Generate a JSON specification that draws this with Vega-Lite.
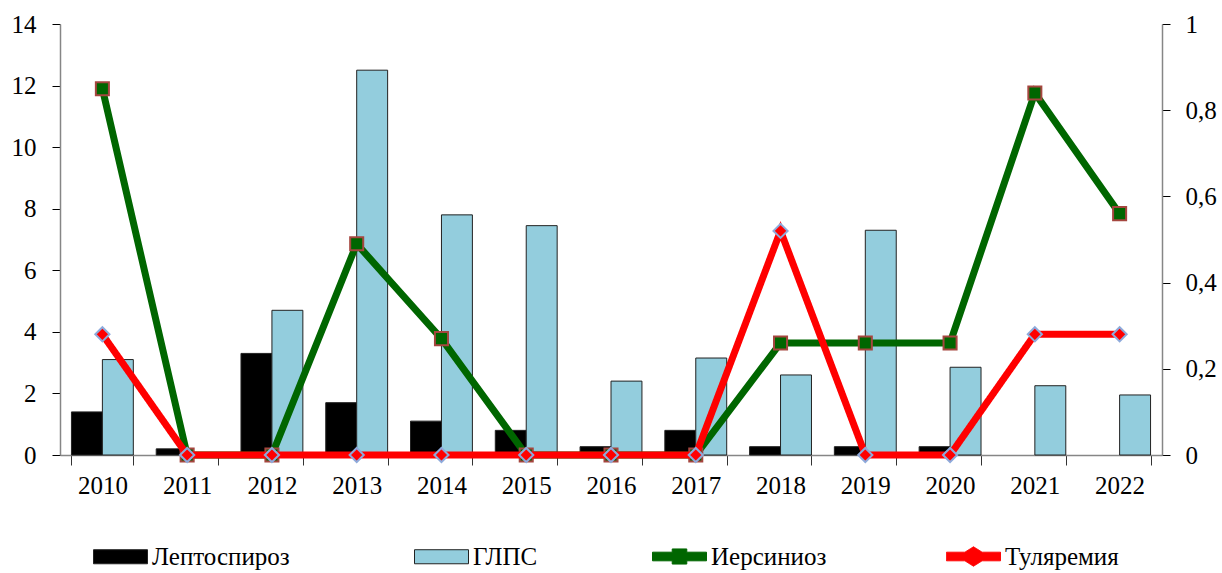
{
  "$schema": "https://vega.github.io/schema/vega-lite/v6.json",
  "width": 1102,
  "height": 431,
  "padding": {"left": 11, "top": 12, "right": 4, "bottom": 0},
  "background": "white",
  "config": {
    "font": "Liberation Serif, DejaVu Serif, serif",
    "view": {"stroke": null},
    "axis": {"labelFont": "Liberation Serif, DejaVu Serif, serif", "labelFontSize": 25, "labelColor": "black", "grid": false, "title": null},
    "legend": {"labelFont": "Liberation Serif, DejaVu Serif, serif", "labelFontSize": 25, "labelColor": "black", "labelOffset": 4, "title": null, "orient": "none", "direction": "horizontal", "symbolSize": 2916, "symbolStrokeWidth": 1, "symbolOpacity": 1}
  },
  "data": {"values": [
    {"year": "2010", "series": "Лептоспироз", "value": 1.4},
    {"year": "2011", "series": "Лептоспироз", "value": 0.2},
    {"year": "2012", "series": "Лептоспироз", "value": 3.3},
    {"year": "2013", "series": "Лептоспироз", "value": 1.7},
    {"year": "2014", "series": "Лептоспироз", "value": 1.1},
    {"year": "2015", "series": "Лептоспироз", "value": 0.8},
    {"year": "2016", "series": "Лептоспироз", "value": 0.27},
    {"year": "2017", "series": "Лептоспироз", "value": 0.8},
    {"year": "2018", "series": "Лептоспироз", "value": 0.27},
    {"year": "2019", "series": "Лептоспироз", "value": 0.27},
    {"year": "2020", "series": "Лептоспироз", "value": 0.27},
    {"year": "2010", "series": "ГЛПС", "value": 3.1},
    {"year": "2012", "series": "ГЛПС", "value": 4.7},
    {"year": "2013", "series": "ГЛПС", "value": 12.5},
    {"year": "2014", "series": "ГЛПС", "value": 7.8},
    {"year": "2015", "series": "ГЛПС", "value": 7.45},
    {"year": "2016", "series": "ГЛПС", "value": 2.4},
    {"year": "2017", "series": "ГЛПС", "value": 3.15},
    {"year": "2018", "series": "ГЛПС", "value": 2.6},
    {"year": "2019", "series": "ГЛПС", "value": 7.3},
    {"year": "2020", "series": "ГЛПС", "value": 2.85},
    {"year": "2021", "series": "ГЛПС", "value": 2.25},
    {"year": "2022", "series": "ГЛПС", "value": 1.95},
    {"year": "2010", "series": "Иерсиниоз", "value": 0.85},
    {"year": "2011", "series": "Иерсиниоз", "value": 0},
    {"year": "2012", "series": "Иерсиниоз", "value": 0},
    {"year": "2013", "series": "Иерсиниоз", "value": 0.49},
    {"year": "2014", "series": "Иерсиниоз", "value": 0.27},
    {"year": "2015", "series": "Иерсиниоз", "value": 0},
    {"year": "2016", "series": "Иерсиниоз", "value": 0},
    {"year": "2017", "series": "Иерсиниоз", "value": 0},
    {"year": "2018", "series": "Иерсиниоз", "value": 0.26},
    {"year": "2019", "series": "Иерсиниоз", "value": 0.26},
    {"year": "2020", "series": "Иерсиниоз", "value": 0.26},
    {"year": "2021", "series": "Иерсиниоз", "value": 0.84},
    {"year": "2022", "series": "Иерсиниоз", "value": 0.56},
    {"year": "2010", "series": "Туляремия", "value": 0.28},
    {"year": "2011", "series": "Туляремия", "value": 0},
    {"year": "2012", "series": "Туляремия", "value": 0},
    {"year": "2013", "series": "Туляремия", "value": 0},
    {"year": "2014", "series": "Туляремия", "value": 0},
    {"year": "2015", "series": "Туляремия", "value": 0},
    {"year": "2016", "series": "Туляремия", "value": 0},
    {"year": "2017", "series": "Туляремия", "value": 0},
    {"year": "2018", "series": "Туляремия", "value": 0.52},
    {"year": "2019", "series": "Туляремия", "value": 0},
    {"year": "2020", "series": "Туляремия", "value": 0},
    {"year": "2021", "series": "Туляремия", "value": 0.28},
    {"year": "2022", "series": "Туляремия", "value": 0.28}
  ]},
  "encoding": {
    "x": {
      "field": "year", "type": "ordinal",
      "scale": {"paddingInner": 0.27, "paddingOuter": 0.135},
      "axis": {"labelAngle": 0, "tickBand": "extent", "tickSize": 10, "labelPadding": 8, "domainColor": "#868686", "tickColor": "#333333", "domainWidth": 1.5}
    }
  },
  "layer": [
    {
      "transform": [{"filter": "datum.series == 'Лептоспироз' || datum.series == 'ГЛПС'"}],
      "mark": {"type": "bar", "stroke": "#222222", "strokeWidth": 1},
      "encoding": {
        "xOffset": {"field": "series", "type": "nominal", "scale": {"domain": ["Лептоспироз", "ГЛПС"], "paddingInner": 0, "paddingOuter": 0}},
        "y": {
          "field": "value", "type": "quantitative",
          "scale": {"domain": [0, 14], "nice": false},
          "axis": {"orient": "left", "values": [0, 2, 4, 6, 8, 10, 12, 14], "tickSize": 8, "labelPadding": 16, "domainColor": "#868686", "tickColor": "black", "domainWidth": 1.5}
        },
        "color": {
          "field": "series", "type": "nominal",
          "scale": {"domain": ["Лептоспироз", "ГЛПС"], "range": ["black", "#93CDDD"]},
          "legend": {
            "legendX": 33,
            "legendY": 505,
            "columns": 2,
            "columnPadding": 122,
            "symbolType": "M-1,-0.26L1,-0.26L1,0.26L-1,0.26Z",
            "symbolStrokeColor": "#222222"
          }
        }
      }
    },
    {
      "encoding": {
        "y": {
          "field": "value", "type": "quantitative",
          "scale": {"domain": [0, 1], "nice": false},
          "axis": {"orient": "right", "values": [0, 0.2, 0.4, 0.6, 0.8, 1], "labelExpr": "replace(format(datum.value, '.1~f'), '.', ',')", "tickSize": 8, "labelPadding": 15, "domainColor": "#868686", "tickColor": "black", "domainWidth": 1.5}
        }
      },
      "layer": [
        {
          "transform": [{"filter": "datum.series == 'Иерсиниоз'"}],
          "mark": {"type": "line", "strokeWidth": 7},
          "encoding": {
            "stroke": {
              "field": "series", "type": "nominal",
              "scale": {"domain": ["Иерсиниоз"], "range": ["#006600"]},
              "legend": {
                "legendX": 592,
                "legendY": 505,
                "symbolType": "M-1,-0.16L-0.27,-0.16L-0.27,-0.28L0.27,-0.28L0.27,-0.16L1,-0.16L1,0.16L0.27,0.16L0.27,0.28L-0.27,0.28L-0.27,0.16L-1,0.16Z",
                "symbolFillColor": "#006600",
                "symbolStrokeColor": "#006600"
              }
            }
          }
        },
        {
          "transform": [{"filter": "datum.series == 'Иерсиниоз'"}],
          "mark": {"type": "point", "shape": "square", "filled": true, "fill": "#006600", "stroke": "#A5463F", "strokeWidth": 2, "size": 170, "opacity": 1}
        },
        {
          "transform": [{"filter": "datum.series == 'Туляремия'"}],
          "mark": {"type": "line", "strokeWidth": 7, "color": "#FF0000"},
          "encoding": {
            "strokeDash": {
              "field": "series", "type": "nominal",
              "scale": {"domain": ["Туляремия"], "range": [[1, 0]]},
              "legend": {
                "legendX": 886,
                "legendY": 505,
                "symbolType": "M-1,-0.16L-0.32,-0.16L0,-0.36L0.32,-0.16L1,-0.16L1,0.16L0.32,0.16L0,0.36L-0.32,0.16L-1,0.16Z",
                "symbolFillColor": "#FF0000",
                "symbolStrokeColor": "#FF0000"
              }
            }
          }
        },
        {
          "transform": [{"filter": "datum.series == 'Туляремия'"}],
          "mark": {"type": "point", "shape": "diamond", "filled": true, "fill": "#FF0000", "stroke": "#8EAADB", "strokeWidth": 2, "size": 200, "opacity": 1}
        }
      ]
    }
  ],
  "resolve": {"scale": {"y": "independent"}}
}
